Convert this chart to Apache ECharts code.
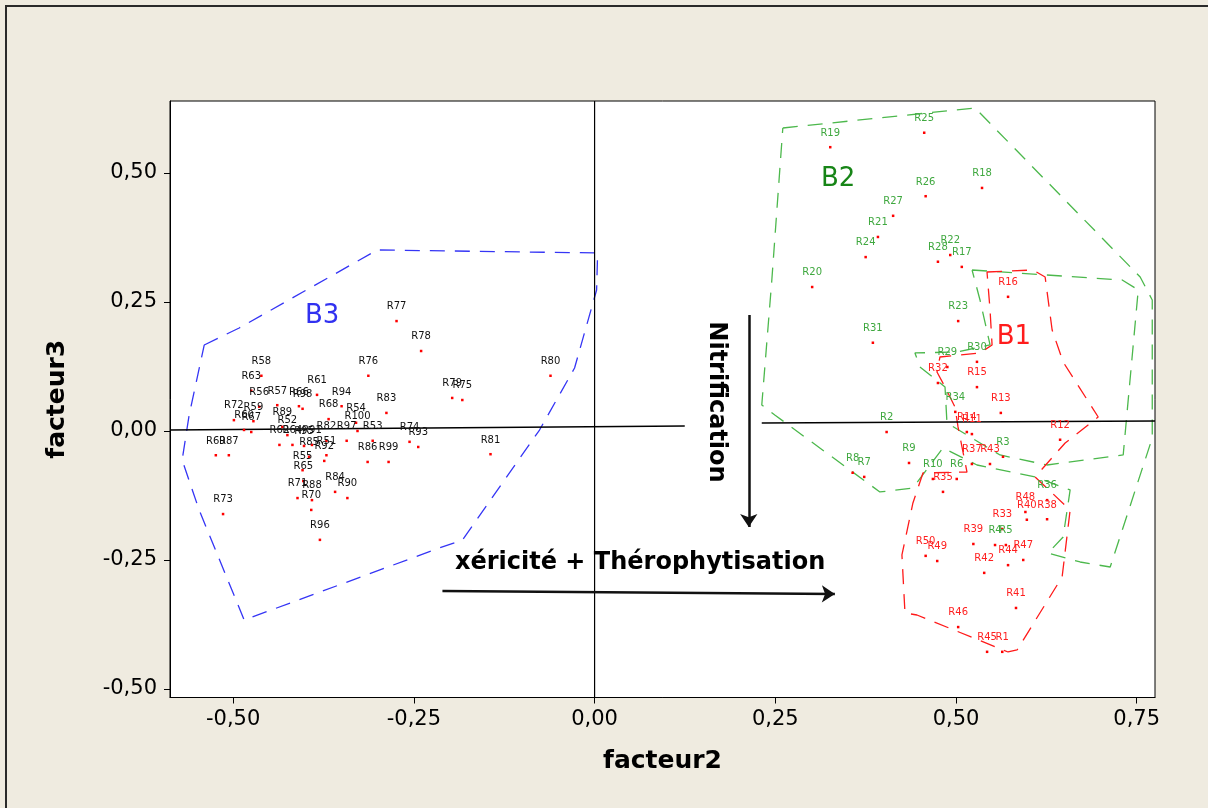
<!DOCTYPE html>
<html><head><meta charset="utf-8">
<script src="https://cdn.jsdelivr.net/npm/echarts@6/dist/echarts.min.js"></script>
<style>html,body{margin:0;padding:0;background:#EFEBE0;}#c{width:1208px;height:808px;}</style>
</head><body><div id="c"></div>
<script>
// ---------- axis ----------
const xTicks = [-0.5, -0.25, 0, 0.25, 0.5, 0.75];
const yTicks = [-0.5, -0.25, 0, 0.25, 0.5];
const xRange = [-0.5874, 0.7753];
const yRange = [-0.5165, 0.6395];

// ---------- group B3 (black labels) ----------
const b3Names = ['R58','R63','R61','R56','R57','R66','R98','R94','R68','R83',
                 'R72','R59','R60','R67','R89','R52','R54','R100','R82','R97',
                 'R53','R74','R93','R62','R64','R95','R91','R69','R87','R85',
                 'R51','R92','R86','R99','R55','R65','R84','R90','R71','R88',
                 'R70','R73','R96','R77','R78','R76','R80','R79','R75','R81'];
const b3X = [-0.461,-0.475,-0.384,-0.464,-0.439,-0.409,-0.404,-0.350,-0.368,-0.288,
             -0.499,-0.472,-0.485,-0.475,-0.432,-0.425,-0.330,-0.328,-0.371,-0.343,
             -0.307,-0.256,-0.244,-0.436,-0.418,-0.402,-0.391,-0.524,-0.506,-0.395,
             -0.371,-0.374,-0.314,-0.285,-0.404,-0.403,-0.359,-0.342,-0.411,-0.391,
             -0.392,-0.514,-0.380,-0.274,-0.240,-0.313,-0.061,-0.197,-0.183,-0.144];
const b3Y = [0.107,0.078,0.070,0.047,0.050,0.048,0.043,0.048,0.023,0.035,
             0.021,0.019,0.002,-0.002,0.008,-0.008,0.016,0.000,-0.019,-0.019,
             -0.019,-0.021,-0.031,-0.027,-0.027,-0.029,-0.027,-0.047,-0.047,-0.050,
             -0.047,-0.058,-0.060,-0.060,-0.076,-0.097,-0.118,-0.130,-0.130,-0.134,
             -0.153,-0.161,-0.211,0.213,0.155,0.107,0.107,0.064,0.060,-0.045];

// ---------- group B2 (green labels) ----------
const b2Names = ['R19','R25','R26','R18','R27','R21','R24','R22','R28','R17',
                 'R20','R23','R31','R30','R29','R34','R2','R9','R8','R7',
                 'R10','R6','R3','R36','R4','R5'];
const b2X = [0.326,0.456,0.458,0.536,0.413,0.392,0.375,0.492,0.475,0.508,
             0.301,0.503,0.385,0.529,0.488,0.499,0.404,0.435,0.357,0.373,
             0.468,0.501,0.565,0.626,0.554,0.569];
const b2Y = [0.550,0.578,0.455,0.471,0.417,0.376,0.337,0.341,0.328,0.318,
             0.279,0.213,0.171,0.134,0.124,0.037,-0.002,-0.062,-0.081,-0.089,
             -0.093,-0.093,-0.050,-0.134,-0.221,-0.221];

// ---------- group B1 (red labels) ----------
const b1Names = ['R16','R32','R15','R13','R14','R11','R12','R37','R43','R35',
                 'R48','R40','R38','R33','R39','R50','R49','R42','R44','R47',
                 'R41','R46','R45','R1'];
const b1X = [0.572,0.475,0.529,0.562,0.515,0.522,0.644,0.522,0.547,0.482,
             0.596,0.598,0.626,0.564,0.524,0.458,0.474,0.539,0.572,0.593,
             0.583,0.503,0.543,0.564];
const b1Y = [0.260,0.093,0.085,0.035,-0.002,-0.006,-0.017,-0.064,-0.064,-0.118,
             -0.157,-0.172,-0.171,-0.190,-0.219,-0.242,-0.252,-0.275,-0.260,-0.250,
             -0.343,-0.380,-0.428,-0.428];

// ---------- group envelopes ----------
const hullB3X = [-0.540,-0.4917,-0.3006,0.0042,0.0028,-0.0277,-0.0762,-0.1828,-0.2147,-0.4848,-0.5471,-0.5706,-0.5609,-0.540];
const hullB3Y = [0.1667,0.1996,0.3508,0.345,0.2733,0.1221,0.0019,-0.2112,-0.2267,-0.3663,-0.1531,-0.0562,0.031,0.1667];
const hullB2aX = [0.2604,0.5263,0.7548,0.7715,0.7715,0.7133,0.6717,0.6274,0.6482,0.6579,0.6094,0.5291,0.482,0.4404,0.3947,0.2493,0.2313,0.2452,0.2604];
const hullB2aY = [0.5872,0.626,0.2984,0.2539,-0.0136,-0.2636,-0.2539,-0.2364,-0.2054,-0.1143,-0.0891,-0.0659,-0.0329,-0.1105,-0.1182,0.031,0.0504,0.2926,0.5872];
const hullB2bX = [0.5222,0.7299,0.7521,0.7313,0.626,0.5609,0.4875,0.4848,0.4501,0.4432,0.5014,0.5471,0.5332,0.5222];
const hullB2bY = [0.312,0.2926,0.2733,-0.0465,-0.0659,-0.0465,0.0155,0.0853,0.124,0.1512,0.1531,0.1667,0.2539,0.312];
const hullB1X = [0.5429,0.6066,0.6233,0.633,0.6482,0.6967,0.651,0.6094,0.6579,0.6468,0.5845,0.572,0.446,0.4294,0.4252,0.4404,0.4543,0.5152,0.5028,0.4986,0.4848,0.4737,0.4778,0.5332,0.5499,0.5471,0.5429];
const hullB1Y = [0.3081,0.312,0.2984,0.1957,0.1337,0.0271,-0.0233,-0.0891,-0.1531,-0.2829,-0.4244,-0.4283,-0.3566,-0.3527,-0.2403,-0.1395,-0.0814,-0.0795,0.0078,0.0465,0.0853,0.1143,0.1434,0.1512,0.1667,0.2345,0.3081];

// ---------- reference lines & arrows ----------
const hLineLeft = [[-0.5874, 0.0019], [0.1247, 0.0097]];
const hLineRight = [[0.2313, 0.0155], [0.7753, 0.0194]];
const vLine = [[0, -0.5165], [0, 0.6395]];
const arrowH = [[-0.2105, -0.310], [0.3324, -0.316]];
const arrowV = [[0.2133, 0.2248], [0.2133, -0.186]];

// ---------- annotation texts ----------
const groupLabels = [
  {name: 'B3', pos: [-0.377, 0.223], color: '#3131f0'},
  {name: 'B2', pos: [0.337, 0.488], color: '#178517'},
  {name: 'B1', pos: [0.580, 0.182], color: '#ff1c1c'}
];
const textH = {name: 'xéricité + Thérophytisation', pos: [0.063, -0.2558]};
const textV = {name: 'Nitrification', pos: [0.168, 0.0562]};

const zip = (xs, ys) => xs.map((x, i) => [x, ys[i]]);
const pts = (names, xs, ys) => names.map((n, i) => ({name: n, value: [xs[i], ys[i]]}));
const fmt = v => v.toFixed(2).replace('.', ',');
const FONT = "'DejaVu Sans', Verdana, sans-serif";

function hull(xs, ys, color) {
  return {type: 'line', data: zip(xs, ys), showSymbol: false, silent: true, z: 2,
    lineStyle: {color: color, width: 1.3, type: [15, 10]}, animation: false};
}
function group(names, xs, ys, labelColor) {
  return {type: 'scatter', data: pts(names, xs, ys), symbol: 'rect', symbolSize: 2.5, z: 4,
    itemStyle: {color: '#ff0000', opacity: 1}, animation: false,
    label: {show: true, formatter: '{b}', position: 'top', distance: 8,
      fontFamily: FONT, fontSize: 10, color: labelColor}};
}

const chart = echarts.init(document.getElementById('c'));
chart.setOption({
  backgroundColor: '#EFEBE0',
  animation: false,
  graphic: [{type: 'rect', shape: {x: 6, y: 6, width: 1230, height: 830},
    style: {fill: 'none', stroke: '#2a2a2a', lineWidth: 2}, silent: true}],
  grid: {left: 170, right: 53, top: 101, bottom: 110.5, show: true,
    backgroundColor: '#ffffff', borderColor: '#000', borderWidth: 1},
  xAxis: {type: 'value', min: xRange[0], max: xRange[1],
    axisLine: {show: true, onZero: false, lineStyle: {color: '#000'}},
    axisTick: {show: true, customValues: xTicks, length: 6, lineStyle: {color: '#000'}},
    axisLabel: {customValues: xTicks, formatter: fmt, fontFamily: FONT, fontSize: 21, color: '#000', margin: 12},
    splitLine: {show: false},
    name: 'facteur2', nameLocation: 'middle', nameGap: 51,
    nameTextStyle: {fontFamily: FONT, fontWeight: 'bold', fontSize: 25, color: '#000'}},
  yAxis: {type: 'value', min: yRange[0], max: yRange[1],
    axisLine: {show: true, onZero: false, lineStyle: {color: '#000'}},
    axisTick: {show: true, customValues: yTicks, length: 6, lineStyle: {color: '#000'}},
    axisLabel: {customValues: yTicks, formatter: fmt, fontFamily: FONT, fontSize: 21, color: '#000', margin: 13},
    splitLine: {show: false},
    name: 'facteur3', nameLocation: 'middle', nameGap: 100,
    nameTextStyle: {fontFamily: FONT, fontWeight: 'bold', fontSize: 25, color: '#000'}},
  series: [
    hull(hullB3X, hullB3Y, '#3535f5'),
    hull(hullB2aX, hullB2aY, '#4cb84c'),
    hull(hullB2bX, hullB2bY, '#4cb84c'),
    hull(hullB1X, hullB1Y, '#ff1a1a'),
    {type: 'line', data: vLine, showSymbol: false, silent: true, z: 3, lineStyle: {color: '#000', width: 1.2}},
    {type: 'line', data: hLineLeft, showSymbol: false, silent: true, z: 3, lineStyle: {color: '#000', width: 1.5}},
    {type: 'line', data: hLineRight, showSymbol: false, silent: true, z: 3, lineStyle: {color: '#000', width: 1.5}},
    {type: 'lines', coordinateSystem: 'cartesian2d', silent: true, z: 5,
      symbol: ['none', 'arrow'], symbolSize: 13,
      lineStyle: {color: '#111', width: 2.5, opacity: 1},
      data: [{coords: arrowH}, {coords: arrowV}]},
    group(b3Names, b3X, b3Y, '#111111'),
    group(b2Names, b2X, b2Y, '#3fa83f'),
    group(b1Names, b1X, b1Y, '#ff1e1e'),
    {type: 'scatter', symbolSize: 0, silent: true, z: 6, itemStyle: {color: 'transparent', opacity: 1},
      data: groupLabels.map(g => ({name: g.name, value: g.pos,
        label: {color: g.color}})),
      label: {show: true, position: 'inside', formatter: '{b}', fontFamily: FONT, fontSize: 26,
        textBorderWidth: 0, textBorderColor: 'transparent'}},
    {type: 'scatter', symbolSize: 0, silent: true, z: 6, itemStyle: {color: 'transparent', opacity: 1},
      data: [
        {name: textH.name, value: textH.pos, label: {rotate: 0}},
        {name: textV.name, value: textV.pos, label: {rotate: -90}}
      ],
      label: {show: true, position: 'inside', formatter: '{b}', fontFamily: FONT,
        fontWeight: 'bold', fontSize: 24, color: '#000', textBorderWidth: 0, textBorderColor: 'transparent'}}
  ]
});
</script>
</body></html>
